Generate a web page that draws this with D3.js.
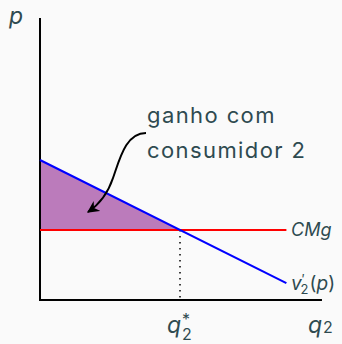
<!DOCTYPE html>
<html>
<head>
<meta charset="utf-8">
<script src="https://cdn.jsdelivr.net/npm/d3@7"></script>
<style>
  html, body { margin: 0; padding: 0; background: #fafafa; }
  svg text { font-family: Inter, "Noto Sans", sans-serif; fill: #2e4a50; }
</style>
</head>
<body>
<div id="chart"></div>
<script>
// values (quantity q2, price p)
const axisMax = [10.07, 10.07];
const demandQ = [0, 8.8];
const demandP = [5, 0.6];
const cmgPrice = 2.5;
const cmgEnd = 8.8;
const qStar = 5;
const annotation = ["ganho com", "consumidor 2"];

const width = 342, height = 344;
const svg = d3.select("#chart").append("svg")
    .attr("width", width)
    .attr("height", height);

const x = d3.scaleLinear().domain([0, 10]).range([40, 320]);
const y = d3.scaleLinear().domain([0, 10]).range([300, 20]);

// shaded triangle: consumer gain
svg.append("path")
    .datum([[0, demandP[0]], [qStar, cmgPrice], [0, cmgPrice]])
    .attr("d", d3.line().x(d => x(d[0])).y(d => y(d[1])))
    .attr("fill", "#bb7bbb");

// dotted line at q*
svg.append("line")
    .attr("x1", x(qStar)).attr("x2", x(qStar))
    .attr("y1", y(cmgPrice)).attr("y2", y(0))
    .attr("stroke", "#000")
    .attr("stroke-width", 1.5)
    .attr("stroke-dasharray", "1.5,4.5");

// axes
svg.append("path")
    .attr("d", d3.line()([[x(0), y(axisMax[1])], [x(0), y(0)], [x(axisMax[0]), y(0)]]))
    .attr("fill", "none")
    .attr("stroke", "#000")
    .attr("stroke-width", 2);

// marginal cost
svg.append("line")
    .attr("x1", x(0)).attr("x2", x(cmgEnd))
    .attr("y1", y(cmgPrice)).attr("y2", y(cmgPrice))
    .attr("stroke", "#ff0000")
    .attr("stroke-width", 2);

// demand line
svg.append("path")
    .datum(demandQ.map((q, i) => [q, demandP[i]]))
    .attr("d", d3.line().x(d => x(d[0])).y(d => y(d[1])))
    .attr("stroke", "#0000ff")
    .attr("stroke-width", 2)
    .attr("fill", "none");

// axis labels
svg.append("text").attr("x", 9).attr("y", 24)
    .attr("font-size", 23).attr("font-style", "italic").text("p");

const q2 = svg.append("text").attr("x", 308).attr("y", 333).attr("font-size", 23).attr("font-style", "italic");
q2.append("tspan").text("q");
q2.append("tspan").attr("font-size", 16).attr("font-style", "normal").attr("dx", 1).text("2");

const qs = svg.append("text").attr("x", x(qStar) - 13).attr("y", 333).attr("font-size", 23).attr("font-style", "italic");
qs.append("tspan").text("q");
qs.append("tspan").attr("font-size", 16).attr("font-style", "normal").attr("dx", 1).attr("dy", 7).text("2");
qs.append("tspan").attr("font-size", 16).attr("font-style", "normal").attr("dx", -10).attr("dy", -15).text("*");

svg.append("text").attr("x", 291).attr("y", 236)
    .attr("font-size", 18).attr("font-style", "italic").text("CMg");

const vl = svg.append("text").attr("x", 291).attr("y", 290).attr("font-size", 19).attr("font-style", "italic");
vl.append("tspan").text("v");
vl.append("tspan").attr("font-style", "normal").attr("font-size", 13).attr("dy", -6).text("′");
vl.append("tspan").attr("font-style", "normal").attr("font-size", 13).attr("dx", -4).attr("dy", 10).text("2");
vl.append("tspan").attr("font-style", "normal").attr("dx", 1).attr("dy", -4).text("(");
vl.append("tspan").text("p");
vl.append("tspan").attr("font-style", "normal").text(")");

// annotation
svg.append("text").selectAll("tspan")
    .data(annotation)
    .join("tspan")
    .attr("x", 147)
    .attr("y", (d, i) => 123 + i * 35)
    .attr("font-size", 22)
    .attr("letter-spacing", 1.4)
    .text(d => d);

svg.append("defs").append("marker")
    .attr("id", "arrow")
    .attr("viewBox", "0 0 10 10")
    .attr("refX", 9).attr("refY", 5)
    .attr("markerWidth", 6).attr("markerHeight", 6)
    .attr("orient", "auto")
    .append("path")
    .attr("d", "M0,0 L10,5 L0,10 L3,5 Z")
    .attr("fill", "#000");

svg.append("path")
    .attr("d", "M146,133 C126,133 120,158 113,178 C108,193 100,204 88,212")
    .attr("fill", "none")
    .attr("stroke", "#000")
    .attr("stroke-width", 2)
    .attr("marker-end", "url(#arrow)");
</script>
</body>
</html>
